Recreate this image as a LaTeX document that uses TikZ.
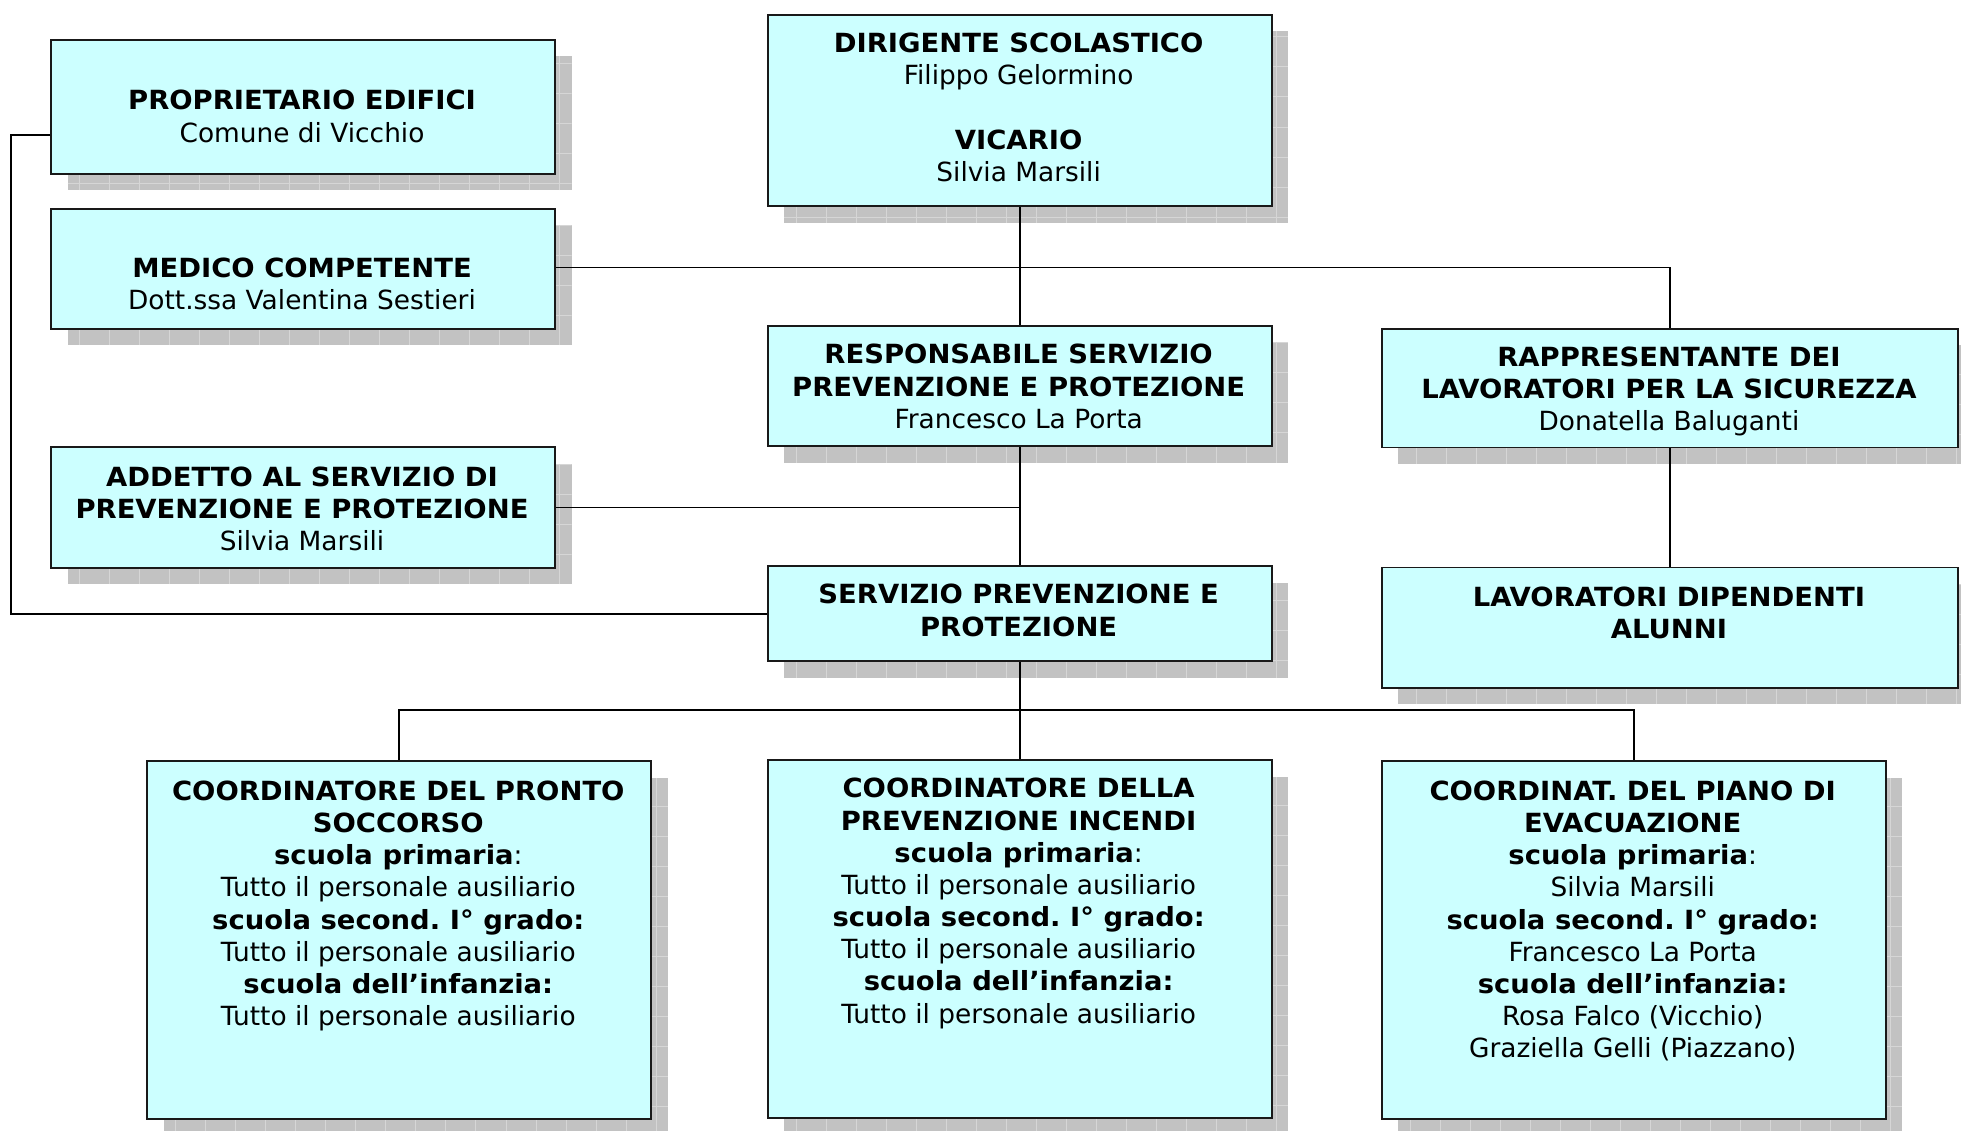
\documentclass[tikz,border=0pt]{standalone}
\usepackage{fontspec}
\setmainfont{DejaVu Sans}[BoldFeatures={FakeStretch=1.04}]
\usepackage{tikz}
\usetikzlibrary{positioning, shadows}
\frenchspacing

\definecolor{celeste}{HTML}{CCFFFF}
\definecolor{grigioombra}{HTML}{C2C2C2}
\definecolor{grigiogriglia}{HTML}{D6D6D6}

\tikzset{
  casella/.style={draw=black!90, line width=1.1pt, fill=celeste, anchor=north west, inner sep=0pt,
    general shadow={fill=grigioombra, shadow xshift=0.33cm, shadow yshift=-0.33cm,
      path picture={\draw[grigiogriglia, line width=0.5pt] (path picture bounding box.south west) grid[step=0.6cm] (path picture bounding box.north east);}}},
  stretta/.style={minimum width=10.075cm},
  larga/.style={minimum width=11.525cm},
  testo/.style={align=center, inner sep=0pt, anchor=north, font=\fontsize{15}{18.3}\selectfont},
  linea/.style={draw=black, line width=1pt}
}

\begin{document}
\begin{tikzpicture}[x=0.025cm, y=-0.025cm]
\useasboundingbox (0,0) rectangle (1568,904);

% caselle
\node[casella, stretta, minimum height=2.675cm] (prop) at (40,31) {};
\node[casella, stretta, minimum height=2.4cm] (medico) at (40,166) {};
\node[casella, stretta, minimum height=3.825cm] (dir) at (613,11) {};
\node[casella, stretta, minimum height=2.4cm] (rspp) at (613,260) {};
\node[casella, larga, minimum height=2.375cm] (rls) at (1104,262) {};
\node[casella, stretta, minimum height=2.4cm] (addetto) at (40,357) {};
\node[casella, stretta, minimum height=1.9cm] (spp) at (613,452) {};
\node[casella, larga, minimum height=2.4cm] (lav) at (1104,453) {};
\node[casella, stretta, minimum height=7.15cm] (cps) at (117,608) {};
\node[casella, stretta, minimum height=7.15cm] (cpi) at (613,607) {};
\node[casella, stretta, minimum height=7.15cm] (cpe) at (1104,608) {};

% collegamenti
\draw[linea] ([yshift=-0.5625cm]prop.west) -- ++(-31,0) |- (spp.west);
\draw[linea] (dir.south) -- (rspp.north);
\draw[linea] ([yshift=0.025cm]medico.east) -| (rls.north);
\draw[linea] (rspp.south) -- (spp.north);
\draw[linea] (addetto.east) -- (addetto.east -| spp.north);
\draw[linea] (rls.south) -- (lav.north);
\draw[linea] (spp.south) -- (cpi.north);
\coordinate (bus) at (814.5,568);
\draw[linea] (cps.north) |- (bus) -| (cpe.north);

% testi
\node[testo] (proptxt) at (241.5,72) {\textbf{PROPRIETARIO EDIFICI}\\Comune di Vicchio};
\node[testo] (medicotxt) at (241.5,206) {\textbf{MEDICO COMPETENTE}\\Dott.ssa Valentina Sestieri};
\node[testo] (dirtxt) at (814.5,26) {\textbf{DIRIGENTE SCOLASTICO}\\Filippo Gelormino\\[18.3pt]\textbf{VICARIO}\\Silvia Marsili};
\node[testo] (rspptxt) at (814.5,275) {\textbf{RESPONSABILE SERVIZIO}\\\textbf{PREVENZIONE E PROTEZIONE}\\Francesco La Porta};
\node[testo] (rlstxt) at (1334.5,277) {\textbf{RAPPRESENTANTE DEI}\\\textbf{LAVORATORI PER LA SICUREZZA}\\Donatella Baluganti};
\node[testo] (addettotxt) at (241.5,373) {\textbf{ADDETTO AL SERVIZIO DI}\\\textbf{PREVENZIONE E PROTEZIONE}\\Silvia Marsili};
\node[testo] (spptxt) at (814.5,467) {\textbf{SERVIZIO PREVENZIONE E}\\\textbf{PROTEZIONE}};
\node[testo] (lavtxt) at (1334.5,469) {\textbf{LAVORATORI DIPENDENTI}\\\textbf{ALUNNI}};
\node[testo] (cpstxt) at (318.5,624) {\textbf{COORDINATORE DEL PRONTO}\\\textbf{SOCCORSO}\\\textbf{scuola primaria}:\\Tutto il personale ausiliario\\\textbf{scuola second. I° grado:}\\Tutto il personale ausiliario\\\textbf{scuola dell’infanzia:}\\Tutto il personale ausiliario};
\node[testo] (cpitxt) at (814.5,622) {\textbf{COORDINATORE DELLA}\\\textbf{PREVENZIONE INCENDI}\\\textbf{scuola primaria}:\\Tutto il personale ausiliario\\\textbf{scuola second. I° grado:}\\Tutto il personale ausiliario\\\textbf{scuola dell’infanzia:}\\Tutto il personale ausiliario};
\node[testo] (cpetxt) at (1305.5,624) {\textbf{COORDINAT. DEL PIANO DI}\\\textbf{EVACUAZIONE}\\\textbf{scuola primaria}:\\Silvia Marsili\\\textbf{scuola second. I° grado:}\\Francesco La Porta\\\textbf{scuola dell’infanzia:}\\Rosa Falco (Vicchio)\\Graziella Gelli (Piazzano)};
\end{tikzpicture}
\end{document}
